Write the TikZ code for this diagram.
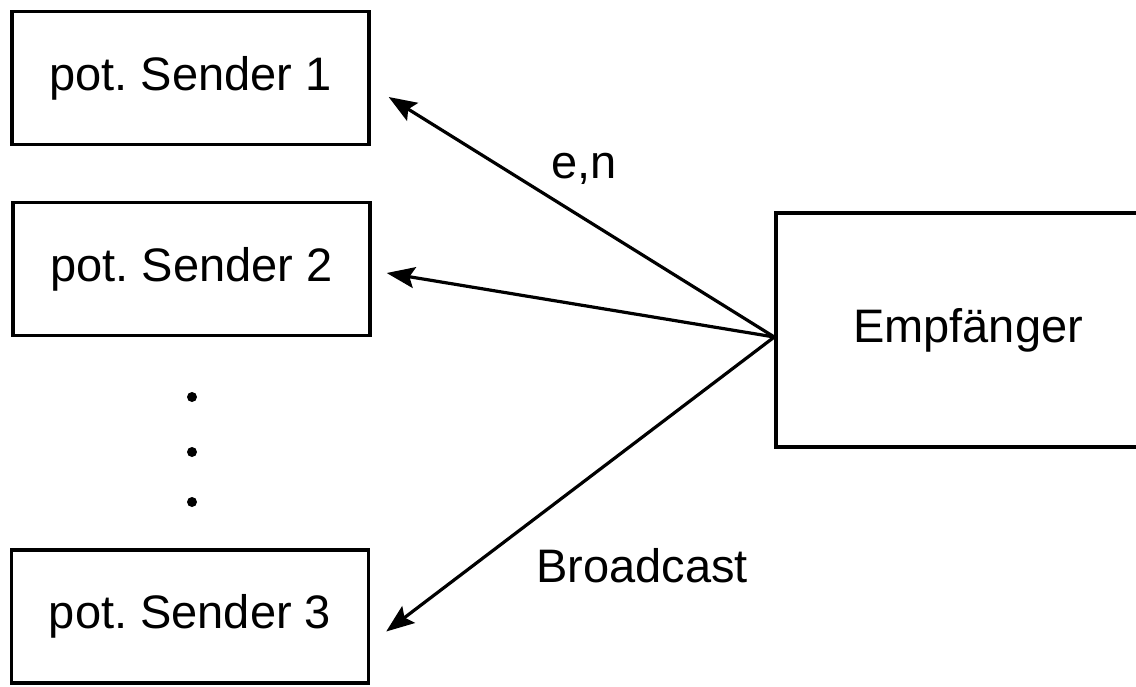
\documentclass[tikz,border=0pt]{standalone}
\usepackage{fontspec}
\setmainfont{Liberation Sans}
\usetikzlibrary{arrows.meta,calc}
\frenchspacing

\tikzset{
  box/.style={draw, line width=3.4pt, inner sep=0pt, align=center,
              font=\fontsize{47}{52}\selectfont},
  sender/.style={box, minimum width=357pt, minimum height=133pt},
  label/.style={anchor=base, inner sep=0pt, font=\fontsize{47}{52}\selectfont},
  msg/.style={line width=3.2pt,
              -{Stealth[length=28pt,width=21pt,inset=5pt]}},
  vdot/.style={circle, fill, inner sep=0pt, minimum size=10pt}
}

\begin{document}
\begin{tikzpicture}[x=1pt, y=-1pt]
  \useasboundingbox (0,0) rectangle (1136,686);

  % potential senders on the left
  \node[sender] (s1) at (190.5,78)  {pot. Sender 1};
  \node[sender] (s2) at (191.5,269) {pot. Sender 2};
  \node[sender] (s3) at (190,616.5) {pot. Sender 3};

  % ellipsis between sender 2 and sender 3
  \node[vdot] (d1) at (192,397) {};
  \node[vdot] (d2) at (192,452) {};
  \node[vdot] (d3) at (192,502) {};

  % receiver, running off the right edge
  \node[box, minimum width=384pt, minimum height=234pt] (emp) at (968,330) {Empf\"anger};

  % broadcast fan-out from the receiver
  \coordinate (hub) at ($(emp.west)+(0,7)$);
  \coordinate (t1) at ($(s1.east)+(18,19)$);
  \coordinate (t2) at ($(s2.east)+(15,4)$);
  \coordinate (t3) at ($(s3.east)+(16,15)$);

  \draw[msg] (hub) -- (t1);
  \draw[msg] (hub) -- (t2);
  \draw[msg] (hub) -- (t3);

  \node[label] (en) at (584,178) {e,n};
  \node[label] (bc) at (642,582) {Broadcast};
\end{tikzpicture}
\end{document}
